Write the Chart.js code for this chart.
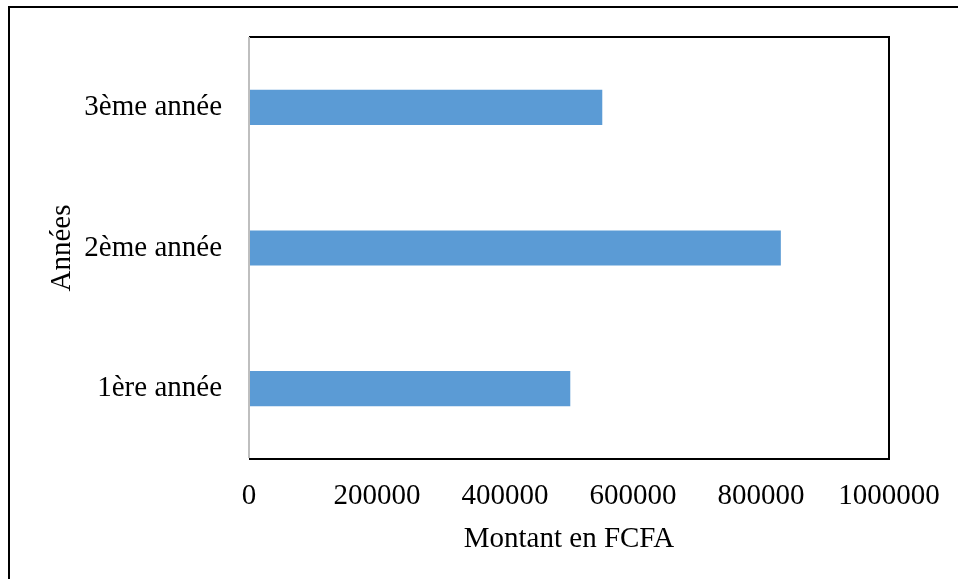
<!DOCTYPE html>
<html lang="fr">
<head>
    <meta charset="UTF-8">
    <title>Montant en FCFA par année</title>
    <script src="https://cdn.jsdelivr.net/npm/chart.js"></script>
    <style>
        html, body { margin: 0; padding: 0; background: #fff; }
        #wrap { width: 958px; height: 579px; }
    </style>
</head>
<body>
    <div id="wrap"><canvas id="chart"></canvas></div>

    <script>
        // Data
        const categories = ['1ère année', '2ème année', '3ème année'];
        const montants = [502000, 831000, 552000];
        const xTicks = [0, 200000, 400000, 600000, 800000, 1000000];

        const serif = 'Liberation Serif, Times New Roman, serif';

        // Frame around the figure and the box around the plot area
        const framePlugin = {
            id: 'frame',
            beforeDraw(chart) {
                const ctx = chart.ctx;
                ctx.save();
                ctx.fillStyle = '#fff';
                ctx.fillRect(0, 0, chart.width, chart.height);
                ctx.strokeStyle = '#000';
                ctx.lineWidth = 2;
                ctx.beginPath();
                ctx.moveTo(9, chart.height + 5);
                ctx.lineTo(9, 7);
                ctx.lineTo(chart.width + 5, 7);
                ctx.stroke();
                ctx.restore();
            },
            afterDraw(chart) {
                const a = chart.chartArea;
                const ctx = chart.ctx;
                ctx.save();
                ctx.strokeStyle = '#000';
                ctx.lineWidth = 2;
                ctx.beginPath();
                ctx.moveTo(a.left, a.top);
                ctx.lineTo(a.right, a.top);
                ctx.lineTo(a.right, a.bottom);
                ctx.lineTo(a.left, a.bottom);
                ctx.stroke();
                ctx.strokeStyle = '#bfbfbf';
                ctx.beginPath();
                ctx.moveTo(a.left, a.top);
                ctx.lineTo(a.left, a.bottom - 1);
                ctx.stroke();
                ctx.restore();
            }
        };

        // invisible tick marks give the label gap without adding to the layout padding
        const hiddenGrid = len => ({
            display: true,
            drawOnChartArea: false,
            drawTicks: true,
            tickLength: len,
            color: 'rgba(0,0,0,0)'
        });

        new Chart(document.getElementById('chart'), {
            type: 'bar',
            data: {
                labels: categories,
                datasets: [{
                    label: 'Montant',
                    data: montants,
                    backgroundColor: '#5b9bd5',
                    borderWidth: 0,
                    barPercentage: 0.25,
                    categoryPercentage: 1
                }]
            },
            options: {
                indexAxis: 'y',
                responsive: true,
                maintainAspectRatio: false,
                animation: false,
                layout: { padding: { top: 37, right: 69, left: 0, bottom: 0 } },
                plugins: {
                    legend: { display: false },
                    tooltip: { enabled: false }
                },
                scales: {
                    x: {
                        min: 0,
                        max: 1000000,
                        afterBuildTicks(scale) {
                            scale.ticks = xTicks.map(v => ({ value: v }));
                        },
                        afterFit(scale) { scale.height = 120; },
                        grid: hiddenGrid(20),
                        border: { display: false },
                        ticks: {
                            color: '#000',
                            padding: 0,
                            maxRotation: 0,
                            font: { family: serif, size: 29 },
                            callback: v => String(v)
                        },
                        title: {
                            display: true,
                            text: 'Montant en FCFA',
                            color: '#000',
                            font: { family: serif, size: 29 },
                            padding: { top: 0, bottom: 22 }
                        }
                    },
                    y: {
                        reverse: true,
                        afterFit(scale) { scale.width = 249; },
                        grid: hiddenGrid(27),
                        border: { display: false },
                        ticks: {
                            color: '#000',
                            padding: 0,
                            font: { family: serif, size: 29 }
                        },
                        title: {
                            display: true,
                            text: 'Années',
                            color: '#000',
                            font: { family: serif, size: 29 },
                            padding: { top: 45, bottom: 0 }
                        }
                    }
                }
            },
            plugins: [framePlugin]
        });
    </script>
</body>
</html>
